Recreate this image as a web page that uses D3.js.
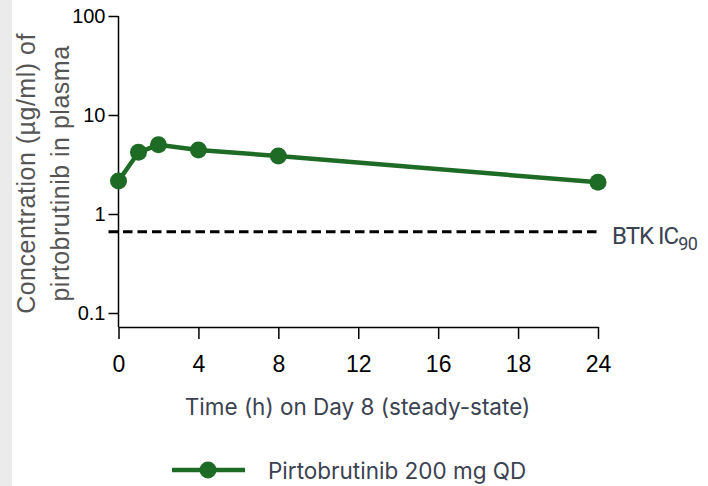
<!DOCTYPE html>
<html>
<head>
<meta charset="utf-8">
<script src="https://cdn.jsdelivr.net/npm/d3@7"></script>
<style>
  html, body { margin: 0; padding: 0; background: #fff; }
  svg { display: block; }
</style>
</head>
<body>
<svg id="chart" width="708" height="486"></svg>
<script>
// Steady-state plasma concentration profile, Day 8
const hours = [0, 1, 2, 4, 8, 24];
const concentration = [2.15, 4.2, 5.0, 4.43, 3.85, 2.09];
const ic90 = 0.66;
const xTickValues = [0, 4, 8, 12, 16, 20, 24];
const xTickLabels = ["0", "4", "8", "12", "16", "18", "24"];
const yTickValues = [0.1, 1, 10, 100];
const yTickLabels = ["0.1", "1", "10", "100"];
const seriesName = "Pirtobrutinib 200 mg QD";

const green = "#1d6b25";
const slate = "#3b4251";

const svg = d3.select("#chart");

// faint panel strip on the left edge
svg.append("rect").attr("x", 0).attr("y", 0).attr("width", 12).attr("height", 486).attr("fill", "#ebebeb");

const x = d3.scaleLinear().domain([0, 24]).range([118.5, 598]);
const y = d3.scaleLog().domain([0.1, 100]).range([313, 16]);
const xAxisY = 327;

// x axis
const xAxis = svg.append("g")
  .attr("transform", `translate(0,${xAxisY})`)
  .call(d3.axisBottom(x).tickValues(xTickValues).tickSize(12).tickSizeOuter(0)
    .tickFormat((d, i) => xTickLabels[i]));
xAxis.select(".domain").attr("stroke", "#000").attr("stroke-width", 1.5);
xAxis.selectAll(".tick line").attr("stroke", "#000").attr("stroke-width", 1.5);
xAxis.selectAll(".tick text")
  .attr("y", 45).attr("dy", null)
  .attr("fill", "#000")
  .style("font-family", "'Liberation Sans', Arial, sans-serif")
  .style("font-size", "23px");

// y axis
const yAxis = svg.append("g")
  .attr("transform", `translate(${x(0)},0)`)
  .call(d3.axisLeft(y).tickValues(yTickValues).tickSize(10).tickSizeOuter(0)
    .tickFormat((d, i) => yTickLabels[i]));
yAxis.select(".domain").remove();
yAxis.append("line")
  .attr("x1", 0).attr("x2", 0)
  .attr("y1", y(100)).attr("y2", xAxisY)
  .attr("stroke", "#000").attr("stroke-width", 1.5);
yAxis.selectAll(".tick line").attr("stroke", "#000").attr("stroke-width", 1.5);
yAxis.selectAll(".tick text")
  .attr("x", -13)
  .attr("fill", "#000")
  .style("font-family", "'Liberation Sans', Arial, sans-serif")
  .style("font-size", "20px");

// y axis title (two lines)
const yTitle = svg.append("text")
  .attr("transform", "translate(0,173.5) rotate(-90)")
  .attr("text-anchor", "middle")
  .attr("fill", "#555")
  .style("font-family", "'Liberation Sans', Arial, sans-serif")
  .style("font-size", "25px")
  .style("letter-spacing", "0.5px");
yTitle.append("tspan").attr("x", 0).attr("y", 35).text("Concentration (µg/ml) of");
yTitle.append("tspan").attr("x", 0).attr("y", 69).text("pirtobrutinib in plasma");

// x axis title
svg.append("text")
  .attr("x", 357.5).attr("y", 415)
  .attr("text-anchor", "middle")
  .attr("fill", slate)
  .style("font-family", "Inter, sans-serif")
  .style("font-size", "22.5px")
  .text("Time (h) on Day 8 (steady-state)");

// IC90 reference line
svg.append("line")
  .attr("x1", x(-0.5)).attr("x2", x(24))
  .attr("y1", y(ic90)).attr("y2", y(ic90))
  .attr("stroke", "#000").attr("stroke-width", 3)
  .attr("stroke-dasharray", "9.5,5");

const ref = svg.append("text")
  .attr("x", 612).attr("y", y(ic90) + 12.5)
  .attr("fill", slate)
  .style("font-family", "Roboto, sans-serif")
  .style("font-size", "24px")
  .style("letter-spacing", "-1px");
ref.append("tspan").text("BTK IC");
ref.append("tspan").attr("dy", 6).style("font-size", "18px").style("letter-spacing", "-0.5px").text("90");

// concentration series
const data = hours.map((h, i) => ({ h, c: concentration[i] }));
svg.append("path")
  .datum(data)
  .attr("fill", "none")
  .attr("stroke", green)
  .attr("stroke-width", 4.5)
  .attr("d", d3.line().x(d => x(d.h)).y(d => y(d.c)));
svg.selectAll("circle.pt")
  .data(data)
  .join("circle")
  .attr("class", "pt")
  .attr("cx", d => x(d.h)).attr("cy", d => y(d.c))
  .attr("r", 8.5)
  .attr("fill", green);

// legend
const lg = svg.append("g").attr("transform", "translate(172,470)");
lg.append("line").attr("x1", 0).attr("x2", 73).attr("y1", 0).attr("y2", 0)
  .attr("stroke", green).attr("stroke-width", 4.5);
lg.append("circle").attr("cx", 36).attr("cy", 0).attr("r", 8.5).attr("fill", green);
lg.append("text")
  .attr("x", 96).attr("y", 9)
  .attr("fill", slate)
  .style("font-family", "Inter, sans-serif")
  .style("font-size", "22.5px")
  .text(seriesName);
</script>
</body>
</html>
